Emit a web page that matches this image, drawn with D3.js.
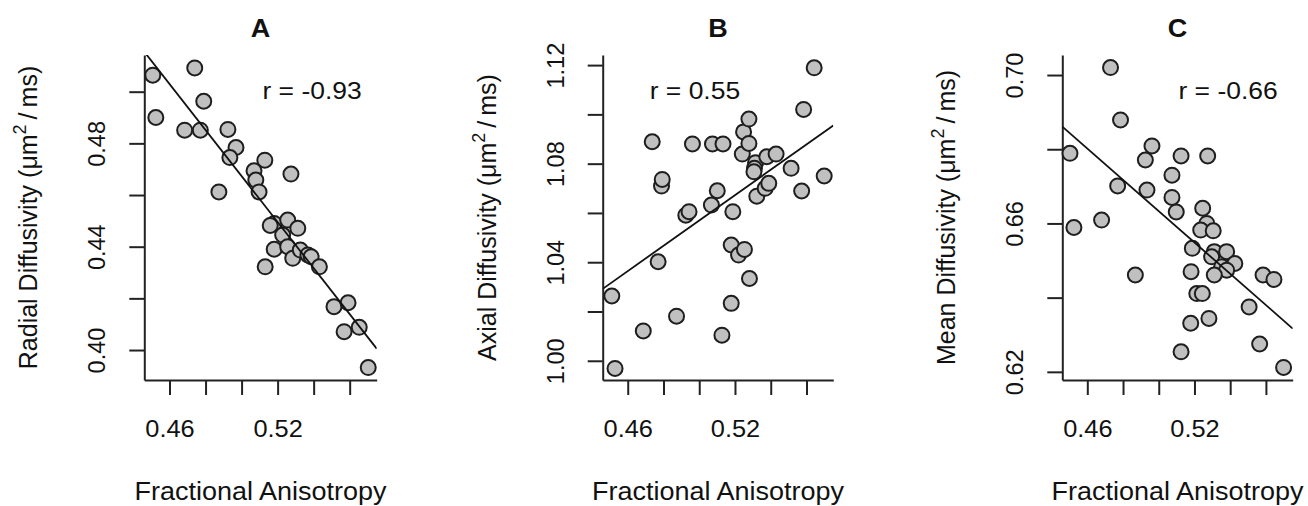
<!DOCTYPE html>
<html>
<head>
<meta charset="utf-8">
<script src="https://cdn.jsdelivr.net/npm/d3@7"></script>
<style>
  body { margin: 0; background: #fff; }
  text { font-family: "Liberation Sans", Arial, sans-serif; fill: #111; }
</style>
</head>
<body>
<div id="chart"></div>
<script>
// Fractional anisotropy vs diffusivity, one array pair per panel
const faA = [0.4507,0.4740,0.4790,0.4524,0.4684,0.4771,0.4924,0.4969,0.4935,0.4874,0.5129,0.5069,0.5079,0.5097,0.5274,0.5181,0.5256,0.5312,0.5228,0.5181,0.5256,0.5284,0.5326,0.5368,0.5386,0.5432,0.5131,0.5159,0.5513,0.5591,0.5569,0.5653,0.5703]
const rdA = [0.5064,0.5092,0.4963,0.4900,0.4851,0.4851,0.4854,0.4784,0.4745,0.4612,0.4735,0.4694,0.4658,0.4612,0.4681,0.4490,0.4503,0.4471,0.4445,0.4390,0.4400,0.4355,0.4387,0.4368,0.4361,0.4322,0.4322,0.4482,0.4168,0.4183,0.4071,0.4088,0.3932]

const faB = [0.4511,0.4529,0.4687,0.4737,0.4789,0.4793,0.4770,0.4873,0.4925,0.4943,0.4962,0.5068,0.5101,0.5074,0.5133,0.5127,0.5179,0.5179,0.5220,0.5253,0.5281,0.5188,0.5241,0.5248,0.5278,0.5278,0.5315,0.5309,0.5306,0.5322,0.5369,0.5389,0.5378,0.5430,0.5514,0.5573,0.5584,0.5643,0.5699]
const adB = [1.0263,0.9969,1.0121,1.0889,1.0709,1.0736,1.0402,1.0181,1.0591,1.0605,1.0880,1.0632,1.0690,1.0880,1.0880,1.0104,1.0233,1.0470,1.0429,1.0452,1.0334,1.0605,1.0839,1.0929,1.0981,1.0882,1.0804,1.0781,1.0767,1.0668,1.0700,1.0720,1.0828,1.0839,1.0781,1.0689,1.1020,1.1189,1.0750]

const faC = [0.4503,0.4525,0.4730,0.4786,0.4770,0.4680,0.4869,0.4962,0.4925,0.4934,0.5074,0.5074,0.5098,0.5125,0.5274,0.5246,0.5269,0.5235,0.5305,0.5188,0.5311,0.5380,0.5296,0.5426,0.5352,0.5380,0.5311,0.5181,0.5213,0.5244,0.5179,0.5281,0.5125,0.5506,0.5584,0.5645,0.5565,0.5699]
const mdC = [0.6789,0.6589,0.7020,0.6879,0.6701,0.6609,0.6461,0.6809,0.6771,0.6690,0.6730,0.6670,0.6631,0.6782,0.6782,0.6641,0.6600,0.6582,0.6580,0.6533,0.6524,0.6524,0.6510,0.6492,0.6483,0.6474,0.6461,0.6470,0.6411,0.6411,0.6331,0.6344,0.6254,0.6375,0.6461,0.6449,0.6275,0.6212]

// regression lines [intercept, slope] and r
const fitA = [0.9127, -0.8907]
const fitB = [0.7999, 0.5141]
const fitC = [0.8742, -0.4218]
const rLabels = ["r = -0.93", "r = 0.55", "r = -0.66"]
const panelTitles = ["A", "B", "C"]
const yTitles = ["Radial Diffusivity", "Axial Diffusivity", "Mean Diffusivity"]

const xTicks = [0.46, 0.48, 0.50, 0.52, 0.54, 0.56]
const xTickLabels = [0.46, 0.52]
const yTicksA = [0.40, 0.42, 0.44, 0.46, 0.48, 0.50]
const yLabelsA = [0.40, 0.44, 0.48]
const yTicksB = [1.00, 1.02, 1.04, 1.06, 1.08, 1.10, 1.12]
const yLabelsB = [1.00, 1.04, 1.08, 1.12]
const yTicksC = [0.62, 0.64, 0.66, 0.68, 0.70]
const yLabelsC = [0.62, 0.66, 0.70]

const W = 1308, H = 506
const TOP = 55, BOTTOM = 380
const SX = 1.08 // the source is a bit wider than tall

let panels = [
    {fa: faA, y: rdA, fit: fitA, left: 144.3, right: 376.7, yDom: [0.3884, 0.5142], yTicks: yTicksA, yLabels: yLabelsA, rAnchor: "end"},
    {fa: faB, y: adB, fit: fitB, left: 602.7, right: 833.3, yDom: [0.9922, 1.1241], yTicks: yTicksB, yLabels: yLabelsB, rAnchor: "start"},
    {fa: faC, y: mdC, fit: fitC, left: 1062.3, right: 1292.7, yDom: [0.6178, 0.7054], yTicks: yTicksC, yLabels: yLabelsC, rAnchor: "end"}
]

let svg = d3.select("#chart").append("svg")
    .attr("width", W)
    .attr("height", H)

let fmt = d3.format(".2f")

panels.forEach((p, i) => {
    let x = d3.scaleLinear().domain([0.446, 0.575]).range([p.left, p.right])
    let y = d3.scaleLinear().domain(p.yDom).range([BOTTOM, TOP])
    let g = svg.append("g")

    g.append("defs").append("clipPath")
        .attr("id", "clip" + i)
        .append("rect")
        .attr("x", p.left).attr("y", TOP)
        .attr("width", p.right - p.left).attr("height", BOTTOM - TOP)

    // x axis
    let xa = g.append("g")
        .attr("transform", `translate(0,${BOTTOM})`)
        .call(d3.axisBottom(x).tickValues(xTicks).tickSize(15).tickSizeOuter(0)
            .tickFormat(d => xTickLabels.some(v => Math.abs(v - d) < 1e-9) ? fmt(d) : ""))
    xa.selectAll("text")
        .attr("y", 57).attr("dy", 0)
        .attr("transform", `scale(${SX},1)`)
        .style("font-size", "23.5px")

    // y axis, labels rotated like base R
    let ya = g.append("g")
        .attr("transform", `translate(${p.left},0)`)
        .call(d3.axisLeft(y).tickValues(p.yTicks).tickSize(15).tickSizeOuter(0)
            .tickFormat(d => p.yLabels.some(v => Math.abs(v - d) < 1e-9) ? fmt(d) : ""))
    ya.selectAll("text")
        .attr("x", 0).attr("y", -39).attr("dy", 0)
        .attr("transform", "rotate(-90)")
        .attr("text-anchor", "middle")
        .style("font-size", "23.5px")

    g.selectAll(".domain, .tick line")
        .attr("stroke", "#222")
        .attr("stroke-width", 2)
    g.selectAll(".tick text").attr("fill", "#111")

    // points
    g.selectAll("circle")
        .data(d3.zip(p.fa, p.y))
        .join("circle")
        .attr("cx", d => x(d[0]))
        .attr("cy", d => y(d[1]))
        .attr("r", 7.5)
        .attr("fill", "#c0c0c0")
        .attr("stroke", "#1e1e1e")
        .attr("stroke-width", 2)

    // fitted line
    let xd = x.domain()
    g.append("line")
        .attr("clip-path", `url(#clip${i})`)
        .attr("x1", x(xd[0])).attr("y1", y(p.fit[0] + p.fit[1] * xd[0]))
        .attr("x2", x(xd[1])).attr("y2", y(p.fit[0] + p.fit[1] * xd[1]))
        .attr("stroke", "#111")
        .attr("stroke-width", 1.8)

    let cx = (p.left + p.right) / 2

    // panel title
    g.append("text")
        .attr("transform", `translate(${cx},37) scale(${SX},1)`)
        .attr("text-anchor", "middle")
        .style("font-size", "25px")
        .style("font-weight", "bold")
        .text(panelTitles[i])

    // r value
    let rx = p.rAnchor === "end" ? p.right - 15 : p.left + 47
    g.append("text")
        .attr("transform", `translate(${rx},99) scale(${SX},1)`)
        .attr("text-anchor", p.rAnchor)
        .style("font-size", "24.5px")
        .text(rLabels[i])

    // x title
    g.append("text")
        .attr("transform", `translate(${cx},500) scale(${SX},1)`)
        .attr("text-anchor", "middle")
        .style("font-size", "25px")
        .text("Fractional Anisotropy")

    // y title with unit
    let yt = g.append("text")
        .attr("transform", `translate(${p.left - 107},${(TOP + BOTTOM) / 2}) rotate(-90)`)
        .attr("text-anchor", "middle")
        .style("font-size", "25px")
    yt.append("tspan").text(yTitles[i] + " (\u03bcm")
    yt.append("tspan").attr("dy", -11).style("font-size", "18px").text("2")
    yt.append("tspan").attr("dy", 11).text("\u2009/\u2009ms)")
})
</script>
</body>
</html>
